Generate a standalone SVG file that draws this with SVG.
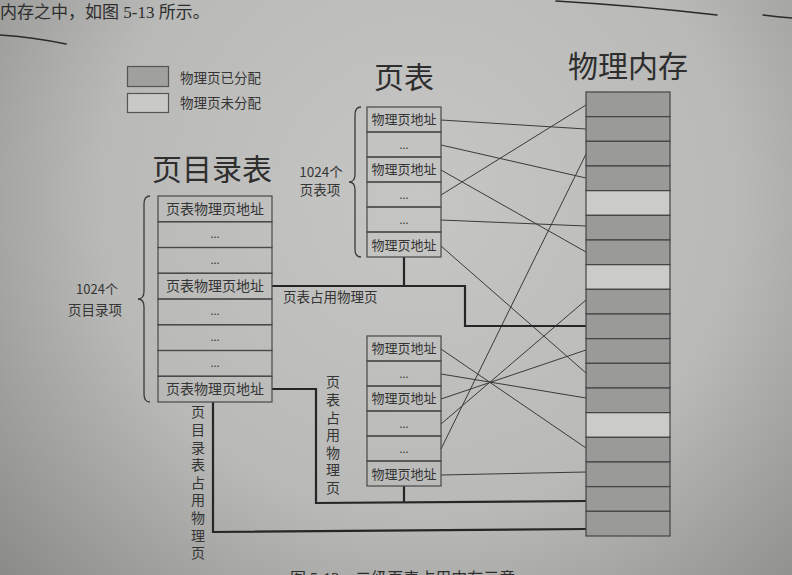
<svg xmlns="http://www.w3.org/2000/svg" width="792" height="575" viewBox="0 0 792 575">
  <defs>
    <radialGradient id="paper" cx="420" cy="200" r="580" gradientUnits="userSpaceOnUse">
      <stop offset="0" stop-color="#c6c6c4"/>
      <stop offset="0.55" stop-color="#b9b9b7"/>
      <stop offset="1" stop-color="#878785"/>
    </radialGradient>
    <style>
      .cell { fill: none; stroke: #484848; stroke-width: 1.2; }
      .used { fill: #9a9a98; stroke: #444; stroke-width: 1.2; }
      .free { fill: #cbcbc9; stroke: #444; stroke-width: 1.2; }
      .txt { font-family: "Noto Sans CJK SC", "Noto Sans", sans-serif; fill: #353535; }
      .cellTxt { font-size: 13px; text-anchor: middle; }
      .pdTxt { font-size: 14px; text-anchor: middle; }
      .dots { font-size: 11px; text-anchor: middle; }
      .title { font-size: 30px; fill: #2e2e2e; }
      .lbl { font-size: 13.5px; }
      .vert { font-size: 14px; writing-mode: tb; letter-spacing: 3.6px; }
      .thin { fill: none; stroke: #3a3a3a; stroke-width: 1; }
      .thick { fill: none; stroke: #262626; stroke-width: 2.2; }
      .brace { fill: none; stroke: #3a3a3a; stroke-width: 1.3; }
      .pen { fill: none; stroke: #2a2a2a; stroke-width: 1.6; stroke-linecap: round; }
      .book { font-family: "Liberation Serif", "Noto Sans CJK SC", serif; fill: #2e2e2e; }
    </style>
  </defs>

  <!-- page -->
  <rect x="0" y="0" width="792" height="575" fill="url(#paper)"/>

  <!-- running text above the figure, with pen underlines -->
  <text class="book" x="0" y="18" font-size="17">内存之中，如图 5-13 所示。</text>
  <path class="pen" d="M0,35 Q32,37 66,44"/>
  <path class="pen" d="M556,1 Q640,6 717,15"/>
  <path class="pen" d="M763,15 Q778,17 792,18"/>

  <!-- legend -->
  <g id="legend">
    <rect x="127.5" y="66.5" width="41" height="20" fill="#a0a09e" stroke="#555" stroke-width="1.2"/>
    <rect x="127.5" y="93.5" width="41" height="19" fill="#c9c9c7" stroke="#555" stroke-width="1.2"/>
    <text class="txt lbl" x="180" y="83">物理页已分配</text>
    <text class="txt lbl" x="180" y="108">物理页未分配</text>
  </g>

  <!-- titles -->
  <text class="txt title" x="152" y="180">页目录表</text>
  <text class="txt title" x="374" y="88" font-size="29">页表</text>
  <text class="txt title" x="568" y="77" font-size="29">物理内存</text>

  <!-- connectors -->
  <g id="connectors">
    <!-- page table 1 entries to physical pages -->
    <line class="thin" x1="441" y1="120" x2="586" y2="129"/>
    <line class="thin" x1="441" y1="145" x2="586" y2="178"/>
    <line class="thin" x1="441" y1="170" x2="586" y2="252"/>
    <line class="thin" x1="441" y1="195" x2="586" y2="105"/>
    <line class="thin" x1="441" y1="220" x2="586" y2="226"/>
    <line class="thin" x1="441" y1="246" x2="586" y2="373"/>
    <!-- page table 2 entries to physical pages -->
    <line class="thin" x1="441" y1="349" x2="586" y2="448"/>
    <line class="thin" x1="441" y1="374" x2="586" y2="398"/>
    <line class="thin" x1="441" y1="399" x2="586" y2="350"/>
    <line class="thin" x1="441" y1="424" x2="586" y2="300"/>
    <line class="thin" x1="441" y1="449" x2="586" y2="154"/>
    <line class="thin" x1="441" y1="475" x2="586" y2="472"/>

    <!-- page table 1 occupies a physical page -->
    <polyline class="thick" points="272,286 465,286 465,326 586,326"/>
    <line class="thick" x1="404" y1="257" x2="404" y2="286"/>
    <!-- page table 2 occupies a physical page -->
    <polyline class="thick" points="272,389 316,389 316,503 586,501"/>
    <line class="thick" x1="404" y1="486" x2="404" y2="503"/>
    <!-- page directory occupies a physical page -->
    <polyline class="thick" points="213,402 213,532 586,529"/>
  </g>

  <!-- page directory -->
  <g id="page-directory">
    <rect class="cell" x="158" y="196" width="114" height="25.75"/>
    <rect class="cell" x="158" y="221.75" width="114" height="25.75"/>
    <rect class="cell" x="158" y="247.5" width="114" height="25.75"/>
    <rect class="cell" x="158" y="273.25" width="114" height="25.75"/>
    <rect class="cell" x="158" y="299" width="114" height="25.75"/>
    <rect class="cell" x="158" y="324.75" width="114" height="25.75"/>
    <rect class="cell" x="158" y="350.5" width="114" height="25.75"/>
    <rect class="cell" x="158" y="376.25" width="114" height="25.75"/>
    <text class="txt pdTxt" x="215" y="214">页表物理页地址</text>
    <text class="txt dots" x="215" y="238">...</text>
    <text class="txt dots" x="215" y="264">...</text>
    <text class="txt pdTxt" x="215" y="291">页表物理页地址</text>
    <text class="txt dots" x="215" y="315">...</text>
    <text class="txt dots" x="215" y="341">...</text>
    <text class="txt dots" x="215" y="367">...</text>
    <text class="txt pdTxt" x="215" y="394">页表物理页地址</text>
    <path class="brace" d="M150,196 Q144,196 144,204 L144,291 Q144,299 138,299 Q144,299 144,307 L144,394 Q144,402 150,402"/>
    <text class="txt lbl" text-anchor="middle"><tspan x="97" y="294" font-size="13">1024个</tspan><tspan x="95" y="315">页目录项</tspan></text>
  </g>

  <!-- page table 1 -->
  <g id="page-table-1">
    <rect class="cell" x="367" y="107" width="74" height="25"/>
    <rect class="cell" x="367" y="132" width="74" height="25"/>
    <rect class="cell" x="367" y="157" width="74" height="25"/>
    <rect class="cell" x="367" y="182" width="74" height="25"/>
    <rect class="cell" x="367" y="207" width="74" height="25"/>
    <rect class="cell" x="367" y="232" width="74" height="25"/>
    <text class="txt cellTxt" x="404" y="124">物理页地址</text>
    <text class="txt dots" x="404" y="149">...</text>
    <text class="txt cellTxt" x="404" y="174">物理页地址</text>
    <text class="txt dots" x="404" y="199">...</text>
    <text class="txt dots" x="404" y="224">...</text>
    <text class="txt cellTxt" x="404" y="250">物理页地址</text>
    <path class="brace" d="M361,107 Q355,107 355,115 L355,174 Q355,182 349,182 Q355,182 355,190 L355,249 Q355,257 361,257"/>
    <text class="txt lbl" text-anchor="middle" font-size="13"><tspan x="321" y="177">1024个</tspan><tspan x="320" y="195">页表项</tspan></text>
  </g>

  <!-- page table 2 -->
  <g id="page-table-2">
    <rect class="cell" x="367" y="336" width="74" height="25"/>
    <rect class="cell" x="367" y="361" width="74" height="25"/>
    <rect class="cell" x="367" y="386" width="74" height="25"/>
    <rect class="cell" x="367" y="411" width="74" height="25"/>
    <rect class="cell" x="367" y="436" width="74" height="25"/>
    <rect class="cell" x="367" y="461" width="74" height="25"/>
    <text class="txt cellTxt" x="404" y="353">物理页地址</text>
    <text class="txt dots" x="404" y="378">...</text>
    <text class="txt cellTxt" x="404" y="403">物理页地址</text>
    <text class="txt dots" x="404" y="428">...</text>
    <text class="txt dots" x="404" y="453">...</text>
    <text class="txt cellTxt" x="404" y="479">物理页地址</text>
  </g>

  <!-- physical memory -->
  <g id="physical-memory">
    <rect class="used" x="586" y="92" width="84" height="24.67"/>
    <rect class="used" x="586" y="116.67" width="84" height="24.67"/>
    <rect class="used" x="586" y="141.33" width="84" height="24.67"/>
    <rect class="used" x="586" y="166" width="84" height="24.67"/>
    <rect class="free" x="586" y="190.67" width="84" height="24.67"/>
    <rect class="used" x="586" y="215.33" width="84" height="24.67"/>
    <rect class="used" x="586" y="240" width="84" height="24.67"/>
    <rect class="free" x="586" y="264.67" width="84" height="24.67"/>
    <rect class="used" x="586" y="289.33" width="84" height="24.67"/>
    <rect class="used" x="586" y="314" width="84" height="24.67"/>
    <rect class="used" x="586" y="338.67" width="84" height="24.67"/>
    <rect class="used" x="586" y="363.33" width="84" height="24.67"/>
    <rect class="used" x="586" y="388" width="84" height="24.67"/>
    <rect class="free" x="586" y="412.67" width="84" height="24.67"/>
    <rect class="used" x="586" y="437.33" width="84" height="24.67"/>
    <rect class="used" x="586" y="462" width="84" height="24.67"/>
    <rect class="used" x="586" y="486.67" width="84" height="24.67"/>
    <rect class="used" x="586" y="511.33" width="84" height="24.67"/>
  </g>

  <!-- connector labels -->
  <text class="txt lbl" x="283" y="302">页表占用物理页</text>
  <text class="txt vert" x="333" y="375">页表占用物理页</text>
  <text class="txt vert" x="198" y="405">页目录表占用物理页</text>

  <!-- figure caption at the page edge -->
  <text class="book" x="290" y="584" font-size="16">图 5-13　二级页表占用内存示意</text>
</svg>
